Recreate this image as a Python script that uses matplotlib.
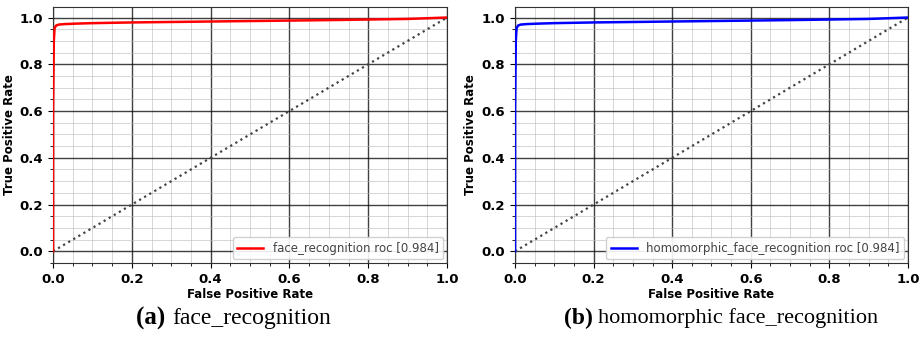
import numpy as np
import matplotlib.pyplot as plt
from matplotlib.ticker import MultipleLocator

# ROC curve points
fpr = [0.0, 0.0, 0.002, 0.004, 0.008, 0.015, 0.03, 0.06, 0.1, 0.2, 0.3, 0.5, 0.7, 0.9, 1.0]
tpr = [0.0, 0.60, 0.90, 0.955, 0.966, 0.970, 0.972, 0.974, 0.976, 0.979, 0.981, 0.985, 0.989, 0.994, 1.0]

labels = ["face_recognition roc [0.984]", "homomorphic_face_recognition roc [0.984]"]
colors = ["red", "blue"]
captions = [("(a)", "face_recognition"), ("(b)", "homomorphic face_recognition")]

fig = plt.figure(figsize=(9.19, 3.42), dpi=100)
axes_pos = [[0.0577, 0.231, 0.4287, 0.7485], [0.5604, 0.231, 0.4276, 0.7485]]
cap_x = [0.187, 0.651]
cap_size = [17, 16]

for i in range(2):
    ax = fig.add_axes(axes_pos[i])
    ax.plot(fpr, tpr, color=colors[i], lw=1.8, label=labels[i], zorder=3)
    ax.plot([0, 1], [0, 1], color="#444444", ls=":", lw=1.6, zorder=2)
    ax.set_xlim(0, 1)
    ax.set_ylim(-0.05, 1.045)
    ax.xaxis.set_major_locator(MultipleLocator(0.2))
    ax.yaxis.set_major_locator(MultipleLocator(0.2))
    ax.xaxis.set_minor_locator(MultipleLocator(0.05))
    ax.yaxis.set_minor_locator(MultipleLocator(0.05))
    ax.grid(which="major", color="#111111", lw=1.0, alpha=0.8)
    ax.grid(which="minor", color="#bbbbbb", lw=0.6, alpha=0.7)
    ax.tick_params(which="major", labelsize=9.5, length=3.5, width=0.8)
    ax.tick_params(which="minor", length=2, width=0.6)
    for lab in ax.get_xticklabels() + ax.get_yticklabels():
        lab.set_fontweight("semibold")
    for s in ax.spines.values():
        s.set_color("#333333")
    ax.set_xlabel("False Positive Rate", fontsize=8.5, fontweight="semibold", labelpad=2)
    ax.set_ylabel("True Positive Rate", fontsize=8.5, fontweight="semibold", labelpad=3)
    leg = ax.legend(loc="lower right", fontsize=8.5, framealpha=0.9,
                    borderaxespad=0.3, handlelength=2.2)
    for t in leg.get_texts():
        t.set_color("#444444")
    fig.text(cap_x[i], 0.07, captions[i][0] + " ", ha="right", va="center",
             fontsize=cap_size[i] + 1, fontweight="bold", family="Liberation Serif")
    fig.text(cap_x[i], 0.07, captions[i][1], ha="left", va="center",
             fontsize=cap_size[i], family="Liberation Serif")

fig.savefig("out.png", dpi=100)
